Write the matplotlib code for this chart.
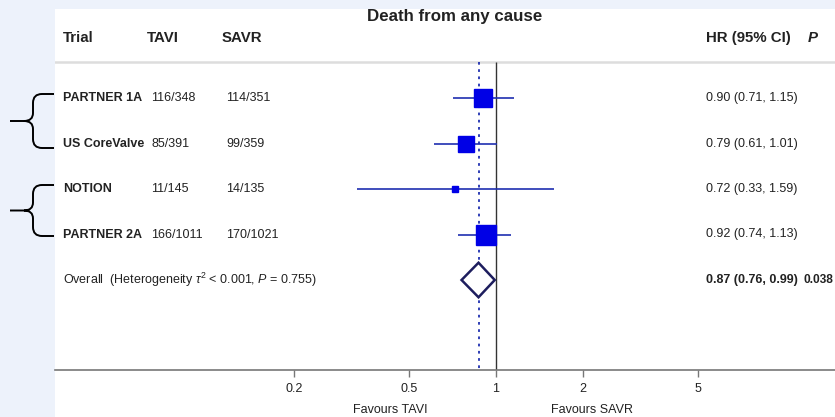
import numpy as np
import matplotlib
matplotlib.use('Agg')
from matplotlib import pyplot as plt
from matplotlib.path import Path
from matplotlib.patches import PathPatch, Rectangle

plt.rcParams['font.family'] = ['Liberation Sans', 'DejaVu Sans']
plt.rcParams['mathtext.fontset'] = 'custom'
plt.rcParams['mathtext.rm'] = 'Liberation Sans'
plt.rcParams['mathtext.it'] = 'Liberation Sans:italic'

# Trial level results
trials = ['PARTNER 1A', 'US CoreValve', 'NOTION', 'PARTNER 2A']
tavi_events = ['116/348', '85/391', '11/145', '166/1011']
savr_events = ['114/351', '99/359', '14/135', '170/1021']
hr = [0.90, 0.79, 0.72, 0.92]
ci_low = [0.71, 0.61, 0.33, 0.74]
ci_high = [1.15, 1.01, 1.59, 1.13]

# Pooled estimate
overall_hr = 0.87
overall_low = 0.76
overall_high = 0.99
overall_p = '0.038'
heterogeneity = 'Overall  (Heterogeneity $\\tau^2$ < 0.001, $P$ = 0.755)'

xticks = [0.2, 0.5, 1, 2, 5]
xtick_labels = ['0.2', '0.5', '1', '2', '5']

W, H = 835, 417
TEXT = '#222222'
BLUE = '#0000e6'
LINE_BLUE = '#1f2fb0'
NAVY = '#1d1d5e'
FS = 9.0


def px(x):
    """Pixel column -> fraction of the plot axes width."""
    return (x - 55) / 780.0


def brace(ax, y0, y1, xv=33, xarm=54, xtip=10):
    ym = (y0 + y1) / 2.0
    verts = [(xarm, y0), (xv + 9, y0), (xv, y0), (xv, y0 + 9),
             (xv, ym - 8), (xv, ym), (xv - 9, ym), (xtip, ym),
             (xv - 9, ym), (xv, ym), (xv, ym + 8),
             (xv, y1 - 9), (xv, y1), (xv + 9, y1), (xarm, y1)]
    codes = [Path.MOVETO, Path.LINETO, Path.CURVE3, Path.CURVE3,
             Path.LINETO, Path.CURVE3, Path.CURVE3, Path.LINETO,
             Path.MOVETO, Path.CURVE3, Path.CURVE3,
             Path.LINETO, Path.CURVE3, Path.CURVE3, Path.LINETO]
    ax.add_patch(PathPatch(Path(verts, codes), fill=False, lw=1.4,
                           edgecolor='black', capstyle='butt'))


fig = plt.figure(figsize=(W / 100, H / 100), dpi=100, facecolor='#edf2fb')

# background layer in pixel coordinates: white panel and the grouping braces
bg = fig.add_axes([0, 0, 1, 1], zorder=0)
bg.set_xlim(0, W)
bg.set_ylim(H, 0)
bg.axis('off')
bg.add_patch(Rectangle((55, 9), W - 55, H - 9, facecolor='white', edgecolor='none'))
brace(bg, 94, 148)
brace(bg, 185, 236)

# forest plot axes, rows are spaced in row units (one row = 45.5 px)
row0, step = 98.0, 45.5
y_bot = (370 - row0) / step
y_top = (9 - row0) / step
ax = fig.add_axes([55 / W, (H - 370) / H, 780 / W, 361 / H], zorder=1)
ax.patch.set_alpha(0)
ax.set_xscale('log')
ax.set_xlim(10 ** ((55 - 496) / 289.0), 10 ** ((835 - 496) / 289.0))
ax.set_ylim(y_bot, y_top)
for s in ['top', 'left', 'right']:
    ax.spines[s].set_visible(False)
ax.spines['bottom'].set_color('#777777')
ax.spines['bottom'].set_linewidth(1.2)
ax.set_yticks([])
ax.set_xticks(xticks)
ax.set_xticklabels(xtick_labels)
ax.xaxis.set_minor_locator(matplotlib.ticker.NullLocator())
ax.tick_params(axis='x', length=5, width=1, color='#777777', labelsize=FS,
               labelcolor=TEXT, pad=4)

sep_y = (62 - row0) / step
ax.axhline(sep_y, color='#dddddd', lw=1.8)
ax.vlines(1, sep_y, y_bot, color='#333333', lw=1)
ax.vlines(overall_hr, sep_y, y_bot, color=LINE_BLUE, lw=1.3, linestyles=(0, (1.5, 2.5)))

rows = np.arange(len(trials))
# box side follows inverse-variance weight taken from the CI width
se = (np.log(ci_high) - np.log(ci_low)) / 3.92
side_pt = 2.1 * np.sqrt(1 / se ** 2) * 0.72
ax.hlines(rows, ci_low, ci_high, color=LINE_BLUE, lw=1.2, zorder=3)
for r, h, s in zip(rows, hr, side_pt):
    ax.plot(h, r, marker='s', ms=s, color=BLUE, mec=BLUE, zorder=4)

r_all = len(trials)
ax.fill([overall_low, overall_hr, overall_high, overall_hr],
        [r_all, r_all - 0.38, r_all, r_all + 0.38],
        facecolor='white', edgecolor=NAVY, lw=1.8, zorder=4)

tr = ax.get_yaxis_transform()
hdr_y = (38 - row0) / step
ax.text(px(455), (16 - row0) / step, 'Death from any cause', transform=tr,
        ha='center', va='center', fontsize=12.2, fontweight='bold', color=TEXT)
for x, lab in [(63, 'Trial'), (147, 'TAVI'), (222, 'SAVR'), (706, 'HR (95% CI)')]:
    ax.text(px(x), hdr_y, lab, transform=tr, ha='left', va='center',
            fontsize=10.8, fontweight='bold', color=TEXT)
ax.text(px(808), hdr_y, 'P', transform=tr, ha='left', va='center',
        fontsize=10.8, fontweight='bold', fontstyle='italic', color=TEXT)

for r in rows:
    ax.text(px(63), r, trials[r], transform=tr, ha='left', va='center',
            fontsize=FS, fontweight='bold', color=TEXT)
    ax.text(px(151), r, tavi_events[r], transform=tr, ha='left', va='center',
            fontsize=FS, color=TEXT)
    ax.text(px(226), r, savr_events[r], transform=tr, ha='left', va='center',
            fontsize=FS, color=TEXT)
    ax.text(px(706), r, f'{hr[r]:.2f} ({ci_low[r]:.2f}, {ci_high[r]:.2f})',
            transform=tr, ha='left', va='center', fontsize=FS, color=TEXT)

ax.text(px(63), r_all, heterogeneity, transform=tr, ha='left', va='center',
        fontsize=FS, color=TEXT)
ax.text(px(706), r_all, f'{overall_hr:.2f} ({overall_low:.2f}, {overall_high:.2f})',
        transform=tr, ha='left', va='center', fontsize=FS, fontweight='bold', color=TEXT)
ax.text(px(804), r_all, overall_p, transform=tr, ha='left', va='center',
        fontsize=8.6, fontweight='bold', color=TEXT)

# direction labels under the axis
fav_y = (410 - row0) / step
ax.text(10 ** ((390 - 496) / 289.0), fav_y, 'Favours TAVI', ha='center', va='center',
        fontsize=FS, color=TEXT, clip_on=False)
ax.text(10 ** ((592 - 496) / 289.0), fav_y, 'Favours SAVR', ha='center', va='center',
        fontsize=FS, color=TEXT, clip_on=False)

fig.savefig('out.png', dpi=100, facecolor=fig.get_facecolor())
plt.close(fig)
